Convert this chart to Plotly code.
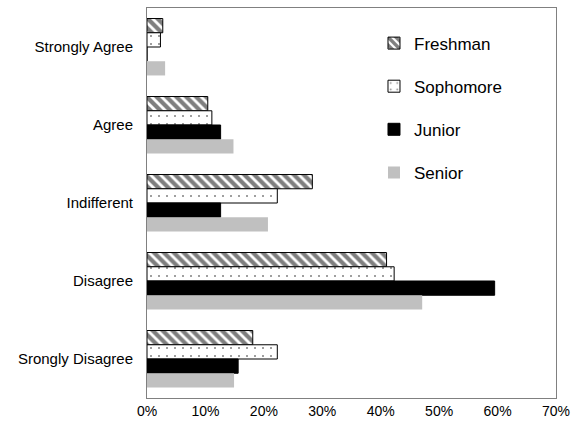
import plotly.graph_objects as go

categories = ["Strongly Agree", "Agree", "Indifferent", "Disagree", "Srongly Disagree"]
freshman = [2.7, 10.4, 28.3, 41.0, 18.1]
sophomore = [2.3, 11.1, 22.3, 42.3, 22.3]
junior = [0.0, 12.6, 12.6, 59.5, 15.6]
senior = [3.1, 14.8, 20.7, 47.1, 14.9]
tick_vals = [0, 10, 20, 30, 40, 50, 60, 70]
tick_text = ["0%", "10%", "20%", "30%", "40%", "50%", "60%", "70%"]

fig = go.Figure()
fig.add_trace(go.Bar(
    y=categories, x=freshman, name="Freshman", orientation="h", legendgroup="a",
    marker=dict(color="white", line=dict(color="black", width=1),
                pattern=dict(shape="\\", fgcolor="black", bgcolor="white", size=7, solidity=0.6))))
fig.add_trace(go.Bar(
    y=categories, x=sophomore, name="Sophomore", orientation="h", legendgroup="b",
    marker=dict(color="white", line=dict(color="black", width=1),
                pattern=dict(shape=".", fgcolor="black", bgcolor="white", size=8, solidity=0.05))))
fig.add_trace(go.Bar(
    y=categories, x=junior, name="Junior", orientation="h", legendgroup="c",
    marker=dict(color="black", line=dict(color="black", width=1))))
fig.add_trace(go.Bar(
    y=categories, x=senior, name="Senior", orientation="h", legendgroup="d",
    marker=dict(color="#c0c0c0", line=dict(color="#c0c0c0", width=0))))

fig.update_layout(
    width=577, height=437,
    margin=dict(l=147, r=18, t=7, b=39),
    paper_bgcolor="white", plot_bgcolor="white",
    barmode="group", bargap=0.27, bargroupgap=0,
    font=dict(family="Arial, Liberation Sans, sans-serif", size=14, color="black"),
    legend=dict(x=0.555, y=0.955, xanchor="left", yanchor="top", bgcolor="rgba(0,0,0,0)",
                tracegroupgap=18, font=dict(size=17), itemwidth=30),
    showlegend=True,
)
fig.update_xaxes(range=[0, 70], tickvals=tick_vals, ticktext=tick_text, showgrid=False,
                 zeroline=False, showline=True, linecolor="#808080", linewidth=1, mirror=True,
                 ticks="", ticklen=0, tickfont=dict(size=14))
fig.update_yaxes(autorange="reversed", showgrid=False, showline=True, linecolor="#808080",
                 linewidth=1, mirror=True, ticks="", ticklabelstandoff=10, tickfont=dict(size=15))
fig.write_html("out.html")
